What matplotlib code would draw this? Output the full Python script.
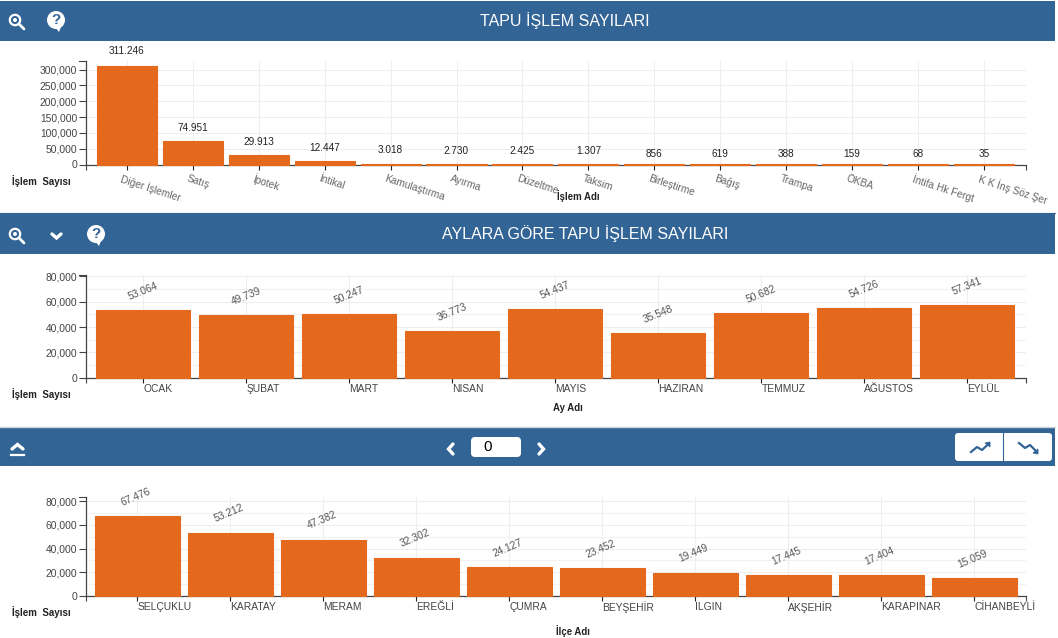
import matplotlib
matplotlib.use("Agg")
import matplotlib.pyplot as plt
from matplotlib.patches import Circle, FancyBboxPatch, Rectangle, Polygon

plt.rcParams['font.family'] = ['Liberation Sans', 'DejaVu Sans']

W, H = 1058, 638
BLUE = '#326496'
ORANGE = '#E5691C'

islem_adi = ['Diğer İşlemler', 'Satış', 'İpotek', 'İntikal', 'Kamulaştırma', 'Ayırma', 'Düzeltme',
             'Taksim', 'Birleştirme', 'Bağış', 'Trampa', 'ÖKBA', 'İntifa Hk Fergt', 'K K İnş Söz Şer']
islem_sayi = [311246, 74951, 29913, 12447, 3018, 2730, 2425, 1307, 856, 619, 388, 159, 68, 35]

ay_adi = ['OCAK', 'ŞUBAT', 'MART', 'NISAN', 'MAYIS', 'HAZIRAN', 'TEMMUZ', 'AĞUSTOS', 'EYLÜL']
ay_sayi = [53064, 49739, 50247, 36773, 54437, 35548, 50682, 54726, 57341]

ilce_adi = ['SELÇUKLU', 'KARATAY', 'MERAM', 'EREĞLİ', 'ÇUMRA', 'BEYŞEHİR', 'ILGIN', 'AKŞEHİR', 'KARAPINAR', 'CİHANBEYLİ']
ilce_sayi = [67476, 53212, 47382, 32302, 24127, 23452, 19449, 17445, 17404, 15059]

ticks_1 = [0, 50000, 100000, 150000, 200000, 250000, 300000]
ticks_2 = [0, 20000, 40000, 60000, 80000]
grid_2 = [10000, 30000, 50000, 70000]


def dotted(v):
    return f'{v:,}'.replace(',', '.')


fig = plt.figure(figsize=(W / 100, H / 100), dpi=100, facecolor='white')

# piksel koordinatli arka katman (basliklar, ikonlar)
bg = fig.add_axes([0, 0, 1, 1], zorder=0)
bg.set_xlim(0, W)
bg.set_ylim(H, 0)
bg.axis('off')


def header(top, bottom):
    bg.add_patch(Rectangle((0, top), 1055, bottom - top, fc=BLUE, ec='none'))


def zoom_icon(x, y):
    bg.add_patch(Circle((x, y), 5.2, fc='none', ec='white', lw=1.6))
    bg.add_patch(Circle((x, y), 2, fc='white', ec='none'))
    bg.plot([x + 4, x + 9], [y + 4, y + 9], color='white', lw=2, solid_capstyle='round')


def help_icon(x, y):
    bg.add_patch(Circle((x, y), 9, fc='white', ec='none'))
    bg.add_patch(Polygon([(x - 1, y + 7), (x + 5, y + 7), (x + 3, y + 12)], fc='white', ec='none'))
    bg.text(x, y, '?', color=BLUE, fontsize=11, fontweight='bold', ha='center', va='center')


def chevron(xs, ys, lw=2.4):
    bg.plot(xs, ys, color='white', lw=lw, solid_capstyle='round', solid_joinstyle='miter')


header(1, 41)
header(214, 254)
header(428, 466)
bg.plot([0, 1055], [213, 213], color=BLUE, lw=0.8)
bg.plot([0, 1055], [426.8, 426.8], color='#c9d2da', lw=1)

zoom_icon(15, 20)
help_icon(56, 20)
zoom_icon(15, 234)
chevron([52, 56.5, 61], [234, 238, 234])
help_icon(96, 234)
chevron([12, 17.5, 23], [449, 444.5, 449])
bg.plot([11, 24], [454.5, 454.5], color='white', lw=1.6)
chevron([453, 448.5, 453], [444, 449, 454])
chevron([539, 543.5, 539], [444, 449, 454])

bg.text(565, 21, 'TAPU İŞLEM SAYILARI', color='white', fontsize=11.55, ha='center', va='center')
bg.text(585, 234, 'AYLARA GÖRE TAPU İŞLEM SAYILARI', color='white', fontsize=11.55, ha='center', va='center')

bg.add_patch(FancyBboxPatch((474, 440), 44, 14, boxstyle='round,pad=3,rounding_size=4', fc='white', ec='none'))
bg.text(488, 447, '0', color='black', fontsize=11, ha='center', va='center')
bg.add_patch(FancyBboxPatch((958, 436), 91, 22, boxstyle='round,pad=3,rounding_size=3', fc='white', ec='none'))
bg.plot([1003, 1003], [433, 461], color=BLUE, lw=0.8)
bg.plot([971, 977, 982, 989], [452, 447, 450, 443.5], color=BLUE, lw=1.6)
bg.add_patch(Polygon([(985, 443), (990, 442), (990, 447)], fc=BLUE, ec=BLUE, lw=0.6))
bg.plot([1019, 1025, 1030, 1037], [443, 448, 445, 452], color=BLUE, lw=1.6)
bg.add_patch(Polygon([(1033, 453), (1038, 454), (1038, 449)], fc=BLUE, ec=BLUE, lw=0.6))


def panel(values, top, zero, ymax, first, step, yticks, ygrid):
    left, right = 86.2, 1025.6
    ax = fig.add_axes([left / W, 1 - zero / H, (right - left) / W, (zero - top) / H], zorder=2)
    ax.patch.set_alpha(0)
    xmin, xmax = (left - first) / step, (right - first) / step
    ax.set_xlim(xmin, xmax)
    ax.set_ylim(0, ymax)
    ax.bar(range(len(values)), values, width=0.91, color=ORANGE, edgecolor=ORANGE, lw=0.8, zorder=3, clip_on=False)

    for s in ['top', 'right']:
        ax.spines[s].set_visible(False)
    for s in ['left', 'bottom']:
        ax.spines[s].set_color('#444444')
        ax.spines[s].set_linewidth(0.9)
        ax.spines[s].set_zorder(2)

    ax.set_yticks(yticks)
    ax.set_yticklabels([f'{t:,}' for t in yticks])
    ax.set_yticks(ygrid, minor=True)
    ax.tick_params(axis='y', which='major', length=5, width=0.8, color='#444444', pad=1.5, labelsize=7.4, labelcolor='#444444')
    ax.tick_params(axis='y', which='minor', length=0)
    ax.set_xticks(range(len(values)))
    ax.set_xticklabels([])
    ax.set_xticks([xmin, xmax], minor=True)
    ax.tick_params(axis='x', which='major', length=3.4, width=0.8, color='#222222')
    ax.tick_params(axis='x', which='minor', length=3.4, width=0.8, color='#444444')
    ax.grid(True, which='major', color='#eeeeee', lw=0.8, zorder=0)
    ax.grid(True, which='minor', axis='y', color='#f2f2f2', lw=0.8, zorder=0)
    ax.set_axisbelow(True)

    # sol eksenin ust uc cizgisi
    bg.plot([left - 7, left], [top, top], color='#444444', lw=0.8)
    return ax


# 1. grafik
ax1 = panel(islem_sayi, 61, 164.5, 327500, 126.8, 65.94, ticks_1, [])
for i, (name, v) in enumerate(zip(islem_adi, islem_sayi)):
    off = 11 if v > 100000 else (9.4 if v > 1000 else 7.4)
    ax1.annotate(dotted(v), (i, v), xytext=(0, off), textcoords='offset points', ha='center', va='center',
                 fontsize=7.2, color='#222222', annotation_clip=False)
    ax1.annotate(name, (i, 0), xytext=(-4, -10), textcoords='offset points', ha='left', va='center',
                 rotation=-18, rotation_mode='anchor', fontsize=7.3, color='#666666', annotation_clip=False)

# 2. grafik
ax2 = panel(ay_sayi, 275.3, 377.7, 80790, 143.3, 103, ticks_2, grid_2)
for i, (name, v) in enumerate(zip(ay_adi, ay_sayi)):
    ax2.annotate(dotted(v), (i, v), xytext=(0, 13.5), textcoords='offset points', ha='center', va='center',
                 rotation=22, rotation_mode='anchor', fontsize=7.4, color='#555555', annotation_clip=False)
    ax2.annotate(name, (i, 0), xytext=(0, -8), textcoords='offset points', ha='left', va='center',
                 fontsize=7.4, color='#444444', annotation_clip=False)

# 3. grafik
ax3 = panel(ilce_sayi, 497.3, 596, 83380, 137.3, 93, ticks_2, grid_2)
for i, (name, v) in enumerate(zip(ilce_adi, ilce_sayi)):
    ax3.annotate(dotted(v), (i, v), xytext=(-1, 14), textcoords='offset points', ha='center', va='center',
                 rotation=23, rotation_mode='anchor', fontsize=7.4, color='#555555', annotation_clip=False)
    ax3.annotate(name, (i, 0), xytext=(0, -8), textcoords='offset points', ha='left', va='center',
                 fontsize=7.4, color='#444444', annotation_clip=False)

for y in [181, 394, 612]:
    bg.text(12, y, 'İşlem  Sayısı', fontsize=7, fontweight='bold', color='#222222', ha='left', va='center')
bg.text(578, 196, 'İşlem Adı', fontsize=6.9, fontweight='bold', color='#222222', ha='center', va='center', zorder=5)
bg.text(568, 408, 'Ay Adı', fontsize=6.9, fontweight='bold', color='#222222', ha='center', va='center')
bg.text(573, 631.5, 'İlçe Adı', fontsize=6.9, fontweight='bold', color='#222222', ha='center', va='center')

fig.savefig('out.png', dpi=100)
